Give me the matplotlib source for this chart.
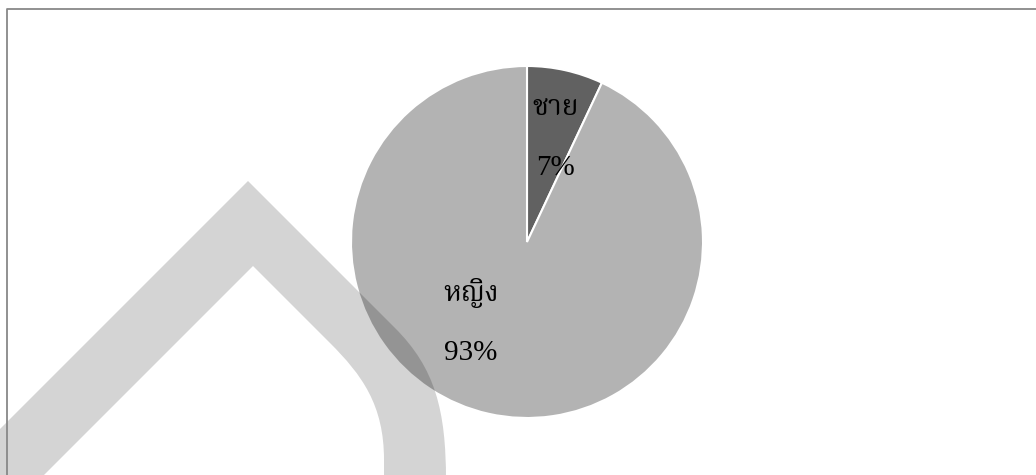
import matplotlib
matplotlib.use("Agg")
import matplotlib.pyplot as plt
from matplotlib.path import Path
from matplotlib.patches import PathPatch
from matplotlib.lines import Line2D
from matplotlib.transforms import IdentityTransform

# data
labels = ["ชาย", "หญิง"]
values = [7, 93]
pct_text = ["7%", "93%"]
colors = ["#616161", "#b3b3b3"]

W, H = 1036, 475
fig = plt.figure(figsize=(W / 100, H / 100), dpi=100)
fig.patch.set_facecolor("white")

# pie area: centre (527, 242) px, radius 176 px
cx, cy, r = 527, 242, 176
ax = fig.add_axes([(cx - r) / W, (H - cy - r) / H, 2 * r / W, 2 * r / H])
ax.pie(values, colors=colors, startangle=90, counterclock=False, radius=1,
       wedgeprops=dict(edgecolor="white", linewidth=1.5))
ax.set_xlim(-1, 1)
ax.set_ylim(-1, 1)
ax.axis("off")

# label positions (axes data units, relative to the radius)
label_pos = [(0.16, 0.76), (-0.32, -0.29)]
for (x, y), name, pct in zip(label_pos, labels, pct_text):
    ax.text(x, y, name, ha="center", va="center", fontsize=20,
            family=["Noto Serif Thai", "Liberation Serif"])
    ax.text(x, y - 0.34, pct, ha="center", va="center", fontsize=21,
            family="Liberation Serif")

# watermark shape, pixel coords with y pointing down
def px(x, y):
    return (x, H - y)

verts = [
    px(-60, 489), px(248, 181), px(395, 328),
    px(435, 368), px(446, 410), px(446, 480),
    px(446, 490), px(384, 490), px(384, 460),
    px(384, 405), px(362, 375), px(330, 343),
    px(253, 266), px(29, 490), px(-60, 490), px(-60, 489),
]
codes = [Path.MOVETO, Path.LINETO, Path.LINETO,
         Path.CURVE4, Path.CURVE4, Path.CURVE4,
         Path.LINETO, Path.LINETO, Path.LINETO,
         Path.CURVE4, Path.CURVE4, Path.CURVE4,
         Path.LINETO, Path.LINETO, Path.LINETO, Path.CLOSEPOLY]
mark = PathPatch(Path(verts, codes), facecolor="black", edgecolor="none",
                 alpha=0.17, transform=IdentityTransform(), zorder=10)
fig.patches.append(mark)

# chart border (left and top edges visible)
fig.add_artist(Line2D([6.5, 6.5, W + 5], [-5, H - 8.5, H - 8.5], color="#888888",
                      linewidth=1.3, transform=IdentityTransform(), zorder=11))

fig.savefig("out.png", dpi=100)
